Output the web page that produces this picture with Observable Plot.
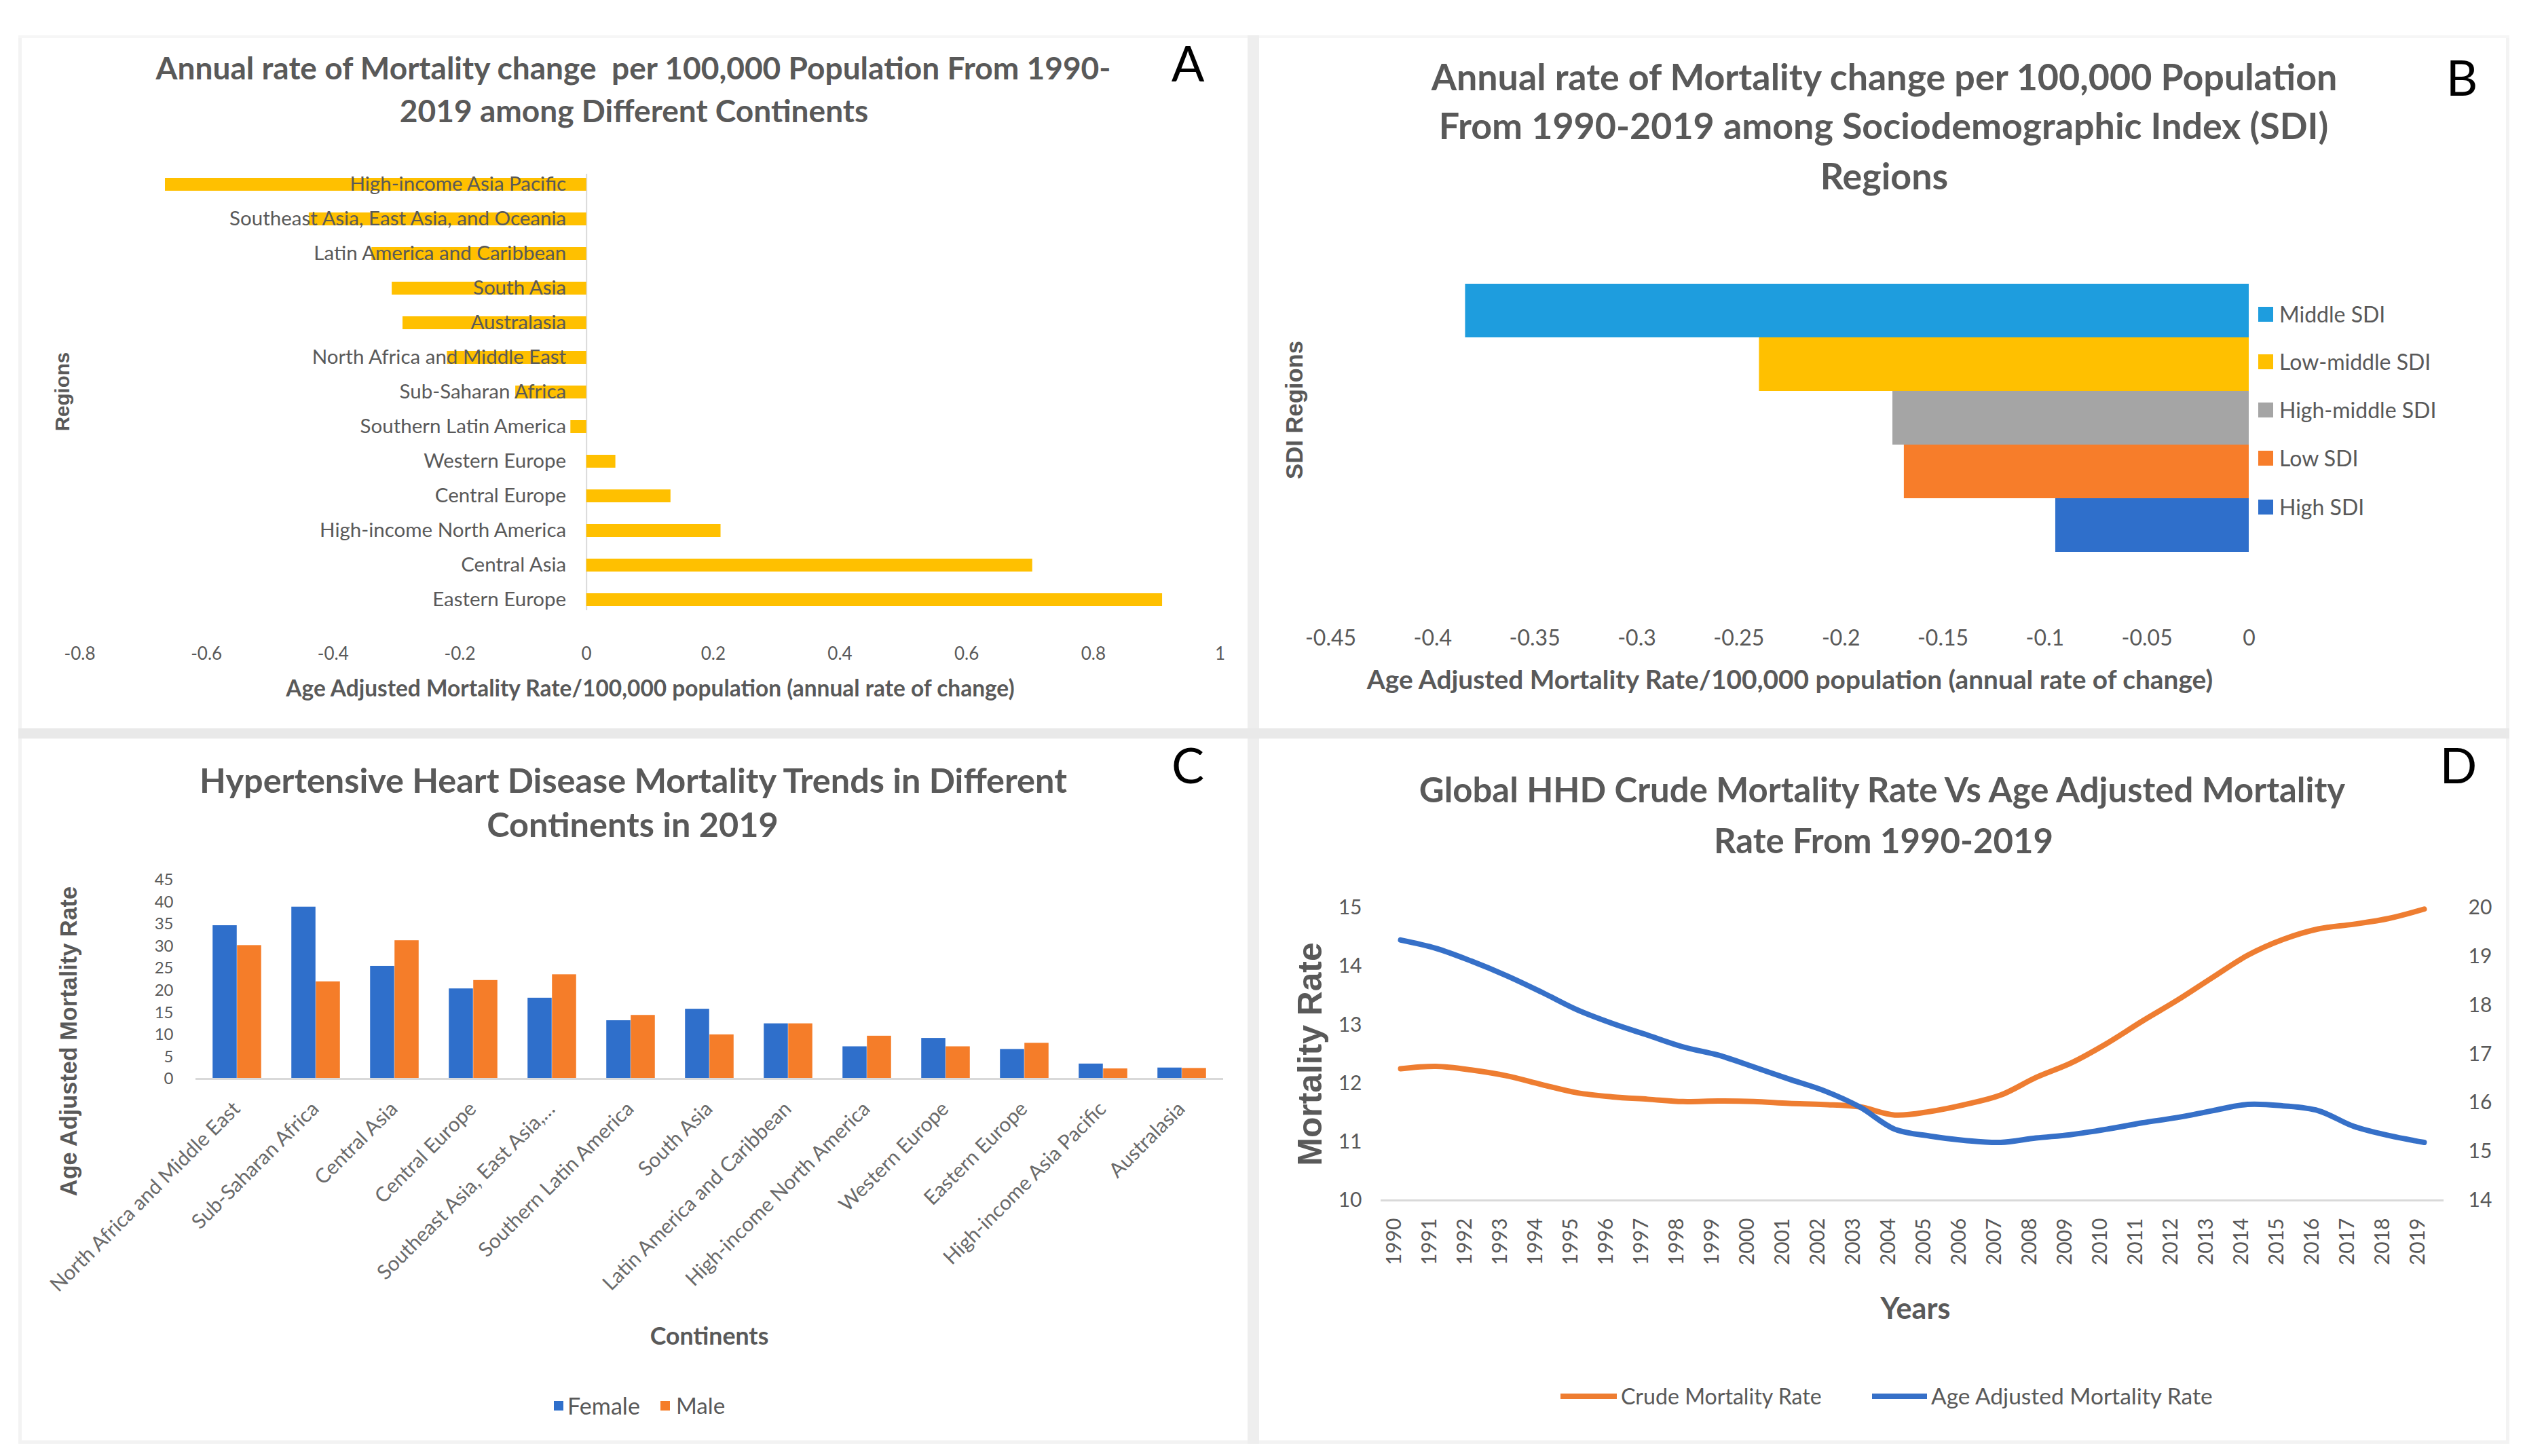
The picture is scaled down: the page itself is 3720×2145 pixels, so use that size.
<!DOCTYPE html>
<html><head><meta charset="utf-8">
<script src="https://cdn.jsdelivr.net/npm/d3@7"></script>
<script src="https://cdn.jsdelivr.net/npm/@observablehq/plot@0.6"></script>
<style>
html,body{margin:0;padding:0;background:#fff;}
#root{position:relative;width:3720px;height:2145px;overflow:hidden;background:#fff;font-family:Lato,"Open Sans",sans-serif;}
.layer{position:absolute;left:0;top:0;}
.box{position:absolute;}
</style></head><body><div id="root"></div>
<script>
// ---------- DATA ----------
// Panel A
const aRegions = ["High-income Asia Pacific","Southeast Asia, East Asia, and Oceania","Latin America and Caribbean","South Asia","Australasia","North Africa and Middle East","Sub-Saharan Africa","Southern Latin America","Western Europe","Central Europe","High-income North America","Central Asia","Eastern Europe"];
const aValues = [-0.665,-0.438,-0.339,-0.307,-0.29,-0.22,-0.112,-0.025,0.046,0.133,0.212,0.704,0.909];
const aTicks = [-0.8,-0.6,-0.4,-0.2,0,0.2,0.4,0.6,0.8,1];
// Panel B
const bRegions = ["Middle SDI","Low-middle SDI","High-middle SDI","Low SDI","High SDI"];
const bValues = [-0.384,-0.240,-0.1746,-0.169,-0.0948];
const bTicks = [-0.45,-0.4,-0.35,-0.3,-0.25,-0.2,-0.15,-0.1,-0.05,0];
// Panel C
const cCats = ["North Africa and Middle East","Sub-Saharan Africa","Central Asia","Central Europe","Southeast Asia, East Asia, and Oceania","Southern Latin America","South Asia","Latin America and Caribbean","High-income North America","Western Europe","Eastern Europe","High-income Asia Pacific","Australasia"];
const cFemale = [34.7,38.9,25.5,20.4,18.3,13.2,15.8,12.5,7.3,9.2,6.7,3.4,2.5];
const cMale = [30.2,22.0,31.3,22.3,23.6,14.4,10.0,12.5,9.7,7.3,8.1,2.3,2.4];
const cTicks = [0,5,10,15,20,25,30,35,40,45];
const cSeries = ["Female","Male"];
// Panel D
const years = [1990,1991,1992,1993,1994,1995,1996,1997,1998,1999,2000,2001,2002,2003,2004,2005,2006,2007,2008,2009,2010,2011,2012,2013,2014,2015,2016,2017,2018,2019];
const crude = [12.25,12.29,12.23,12.13,11.98,11.84,11.77,11.73,11.69,11.70,11.69,11.66,11.64,11.60,11.46,11.52,11.64,11.80,12.10,12.35,12.68,13.06,13.42,13.81,14.19,14.46,14.64,14.72,14.82,14.98];
const ageAdj = [19.34,19.17,18.91,18.61,18.27,17.91,17.63,17.39,17.15,16.98,16.74,16.49,16.25,15.92,15.46,15.32,15.23,15.19,15.28,15.35,15.46,15.59,15.70,15.84,15.97,15.94,15.84,15.52,15.33,15.19];
const dLeftTicks = [10,11,12,13,14,15];
const dRightTicks = [14,15,16,17,18,19,20];
const dSeries = ["Crude Mortality Rate","Age Adjusted Mortality Rate"];

// ---------- STYLE ----------
const W = 3720, H = 2145;
const GRAY = "#595959";
const YELLOW = "#FFC000";
const bColors = ["#1E9DDE","#FFC000","#A5A5A5","#F77D2A","#2F6FCB"];
const FEMALE = "#2F6FCB", MALE = "#F57D29";
const ORANGE = "#EE7D31", BLUE = "#3670C8";

const root = document.getElementById("root");
function box(x,y,w,h,bg){const d=document.createElement("div");d.className="box";d.style.cssText=`left:${x}px;top:${y}px;width:${w}px;height:${h}px;background:${bg};`;root.appendChild(d);return d;}
function txt(s,x,y,o={}){
  const el=document.createElement("div");
  el.textContent=s;
  const size=o.size||28;
  el.style.cssText=`position:absolute;white-space:pre;line-height:1;left:${x}px;top:${y}px;font-family:${o.family||"Lato,sans-serif"};font-weight:${o.weight||400};color:${o.color||GRAY};font-size:${size}px;`;
  let tr=o.anchor==="start"?"translate(0,-50%)":"translate(-50%,-50%)";
  if(o.rotate) tr+=` rotate(${o.rotate}deg)`;
  el.style.transform=tr;
  root.appendChild(el);
  if(o.width){const w=el.offsetWidth;const ns=size*o.width/w;el.style.fontSize=ns+"px";el._size=ns;} else el._size=size;
  return el;
}
const fmtTick = d => String(d);

// panel frames / gutters
box(27,55,5,2072,"#f3f3f3");
box(3692,55,5,2072,"#f3f3f3");
box(27,2122,3670,5,"#f3f3f3");
box(27,52,3670,4,"#f6f6f6");
box(1838,52,17,2075,"#eeeeee");
box(27,1073,3670,15,"#e9e9e9");

function add(svg){svg.classList.add("layer");root.appendChild(svg);}
const baseStyle = "background:transparent;color:"+GRAY+";font-family:Lato,sans-serif;overflow:visible;";

// ---------- PANEL A ----------
const aData = aRegions.map((r,i)=>({region:r,value:aValues[i]}));
add(Plot.plot({
  width:W,height:H,
  marginLeft:117,marginRight:W-1797,marginTop:256,marginBottom:H-899,
  style:baseStyle+"font-size:26px;",
  x:{domain:[-0.8,1]},
  y:{domain:aRegions,paddingInner:0.63,paddingOuter:0,axis:null},
  marks:[
    Plot.ruleX([0],{stroke:"#d9d9d9",strokeWidth:2}),
    Plot.barX(aData,{x:"value",y:"region",fill:YELLOW}),
    Plot.text(aData,{x:()=>0,y:"region",text:"region",textAnchor:"end",dx:-30,fill:GRAY,fontSize:29.5}),
    Plot.axisX({ticks:aTicks,tickFormat:fmtTick,tickSize:0,tickPadding:54,label:null})
  ]
}));

// ---------- PANEL B ----------
const bData = bRegions.map((r,i)=>({sdi:r,value:bValues[i]}));
add(Plot.plot({
  width:W,height:H,
  marginLeft:1960,marginRight:W-3313,marginTop:417,marginBottom:H-814,
  style:baseStyle+"font-size:32px;",
  x:{domain:[-0.45,0]},
  y:{domain:bRegions,padding:0,axis:null},
  color:{domain:bRegions,range:bColors},
  marks:[
    Plot.barX(bData,{x:"value",y:"sdi",fill:"sdi"}),
    Plot.axisX({ticks:bTicks,tickFormat:fmtTick,tickSize:0,tickPadding:114,label:null})
  ]
}));

// ---------- PANEL C ----------
const cData = cCats.map((c,i)=>({cat:c,female:cFemale[i],male:cMale[i]}));
const cLeft=288,cRight=1802,bw=(cRight-cLeft)/cCats.length,barW=36;
const shortLabel = s => s.length>30 ? s.slice(0,26)+"…" : s;
add(Plot.plot({
  width:W,height:H,
  marginLeft:cLeft,marginRight:W-cRight,marginTop:1296,marginBottom:H-1589,
  style:baseStyle+"font-size:24px;",
  x:{domain:cCats,padding:0,axis:null},
  y:{domain:[0,45],axis:null},
  marks:[
    Plot.barY(cData,{x:"cat",y:"female",fill:FEMALE,insetLeft:bw/2-barW,insetRight:bw/2}),
    Plot.barY(cData,{x:"cat",y:"male",fill:MALE,insetLeft:bw/2,insetRight:bw/2-barW}),
    Plot.ruleY([0],{stroke:"#d9d9d9",strokeWidth:3}),
    Plot.axisY({ticks:cTicks,tickFormat:fmtTick,tickSize:0,tickPadding:33,label:null}),
    Plot.text(cCats,{x:d=>d,frameAnchor:"bottom",text:d=>shortLabel(d),rotate:-45,textAnchor:"end",dy:46,dx:6,fontSize:30,fill:"#6a6a6a"})
  ]
}));

// ---------- PANEL D ----------
const dData = years.map((y,i)=>({year:y,crude:crude[i],age:ageAdj[i]}));
const dM = {marginLeft:2034,marginRight:W-3600,marginTop:1337,marginBottom:H-1768};
add(Plot.plot({
  width:W,height:H,...dM,
  style:baseStyle+"font-size:30px;",
  x:{type:"point",domain:years,padding:0.5,axis:null},
  y:{domain:[10,15],axis:null},
  marks:[
    Plot.ruleY([10],{stroke:"#d9d9d9",strokeWidth:3}),
    Plot.axisY({ticks:dLeftTicks,tickFormat:fmtTick,tickSize:0,tickPadding:28,label:null}),
    Plot.text(years,{x:d=>d,frameAnchor:"bottom",text:d=>String(d),rotate:-90,textAnchor:"end",dy:26,fontSize:30,fill:GRAY}),
    Plot.line(dData,{x:"year",y:"crude",stroke:ORANGE,strokeWidth:8,curve:"catmull-rom"})
  ]
}));
add(Plot.plot({
  width:W,height:H,...dM,
  style:baseStyle+"font-size:30px;",
  x:{type:"point",domain:years,padding:0.5,axis:null},
  y:{domain:[14,20],axis:null},
  marks:[
    Plot.axisY({anchor:"right",ticks:dRightTicks,tickFormat:fmtTick,tickSize:0,tickPadding:36,label:null}),
    Plot.line(dData,{x:"year",y:"age",stroke:BLUE,strokeWidth:8,curve:"catmull-rom"})
  ]
}));

// ---------- TEXT: titles, axis titles, legends ----------
const TT = {weight:700,color:GRAY,size:44};
let t;
t = txt("Annual rate of Mortality change  per 100,000 Population From 1990-",933,100,{...TT,width:1408});
txt("2019 among Different Continents",934,163,{...TT,size:t._size});
t = txt("Annual rate of Mortality change per 100,000 Population",2776,113,{...TT,width:1335});
txt("From 1990-2019 among Sociodemographic Index (SDI)",2775,185,{...TT,size:t._size});
txt("Regions",2776,259,{...TT,size:t._size});
t = txt("Hypertensive Heart Disease Mortality Trends in Different",933,1149,{...TT,width:1278});
txt("Continents in 2019",932,1214,{...TT,size:t._size});
t = txt("Global HHD Crude Mortality Rate Vs Age Adjusted Mortality",2773,1163,{...TT,width:1364});
txt("Rate From 1990-2019",2775,1238,{...TT,size:t._size});

const LT = {size:72,color:"#000",family:"Lato,sans-serif"};
txt("A",1750,92,LT); txt("B",3627,113,LT); txt("C",1750,1126,LT); txt("D",3622,1126,LT);

txt("Age Adjusted Mortality Rate/100,000 population (annual rate of change)",958,1014,{weight:700,size:30,width:1074});
txt("Age Adjusted Mortality Rate/100,000 population (annual rate of change)",2637,1000,{weight:700,size:34,width:1246});
txt("Continents",1045,1968,{weight:700,size:30,width:175});
txt("Years",2822,1927,{weight:700,size:36,width:103});

const YT = {weight:700,family:"'Liberation Sans',Arial,sans-serif",rotate:-90,size:28};
txt("Regions",92,577,{...YT,width:116});
txt("SDI Regions",1907,604,{...YT,width:204});
txt("Age Adjusted Mortality Rate",101,1534,{...YT,width:456});
txt("Mortality Rate",1931,1553,{...YT,width:329});

// Legend B
const bLegY = [463,533,604,675,747];
bRegions.forEach((r,i)=>{box(3327,bLegY[i]-11,22,22,bColors[i]);txt(r,3358,bLegY[i],{anchor:"start",size:32});});
// Legend C
box(816,2064,14,14,FEMALE); txt(cSeries[0],836,2071,{anchor:"start",size:30,width:107});
box(973,2064,14,14,MALE); txt(cSeries[1],996,2071,{anchor:"start",size:30,width:72});
// Legend D
box(2299,2053,83,8,ORANGE); txt(dSeries[0],2388,2057,{anchor:"start",size:29,width:296});
box(2758,2053,81,8,BLUE); txt(dSeries[1],2845,2057,{anchor:"start",size:29,width:415});
</script></body></html>
